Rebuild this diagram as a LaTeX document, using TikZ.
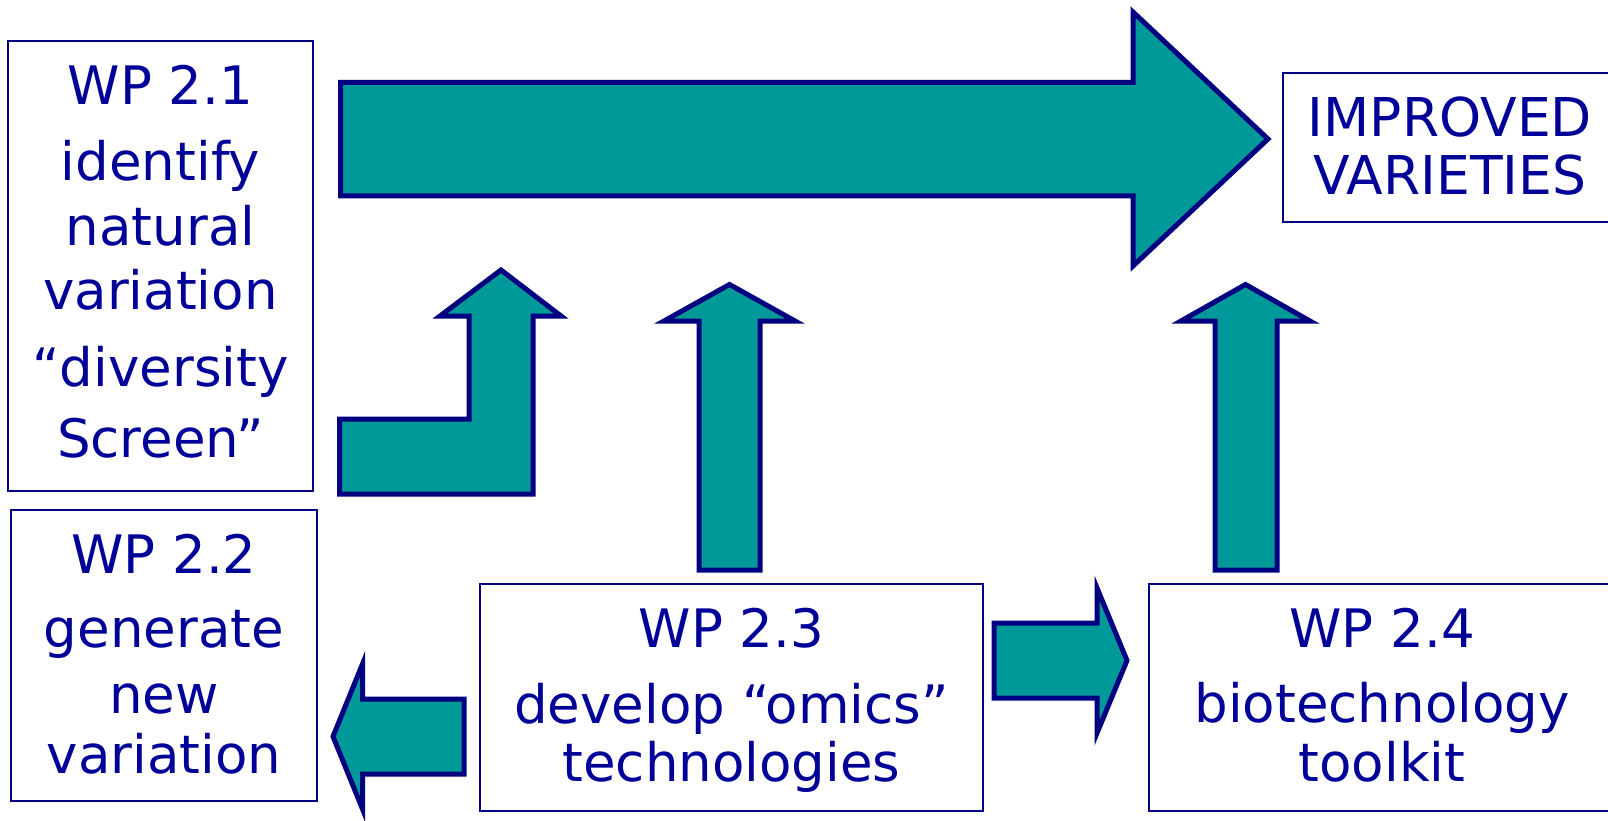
\documentclass[tikz,border=0pt]{standalone}
\usepackage{fontspec}
\setmainfont{DejaVu Sans}
\definecolor{teal1}{RGB}{0,153,153}
\definecolor{navy1}{RGB}{0,0,128}
\definecolor{navytxt}{RGB}{0,0,153}
\tikzset{
  wpbox/.style={draw=navy1, line width=2pt, fill=white, rectangle, inner sep=0pt},
  txt/.style={text=navytxt, inner sep=0pt, anchor=base, font=\fontsize{53}{60}\selectfont},
  blockarrow/.style={draw=navy1, fill=teal1, line width=5pt, line join=miter, miter limit=10},
}
\begin{document}
\begin{tikzpicture}[x=1pt, y=-1pt]
\useasboundingbox (0,0) rectangle (1608,821);
\clip (0,0) rectangle (1608,821);
\fill[white] (0,0) rectangle (1608,821);

% boxes
\node[wpbox, minimum width=305pt, minimum height=449.5pt] (wp21) at (160.5,265.75) {};
\node[wpbox, minimum width=334pt, minimum height=149pt] (imp) at (1450,147.5) {};
\node[wpbox, minimum width=306pt, minimum height=291pt] (wp22) at (164,655.5) {};
\node[wpbox, minimum width=503pt, minimum height=226.5pt] (wp23) at (731.5,697.25) {};
\node[wpbox, minimum width=467pt, minimum height=226.5pt] (wp24) at (1382,697.25) {};

% texts
\node[txt] (t21a) at (160.5,105) {WP 2.1};
\node[txt] (t21b) at (160.5,181) {identify};
\node[txt] (t21c) at (160.5,245.5) {natural};
\node[txt] (t21d) at (160.5,309.5) {variation};
\node[txt] (t21e) at (160.5,386.5) {“diversity};
\node[txt] (t21f) at (160.5,457.5) {Screen”};

\node[txt, font=\fontsize{53.5}{60}\selectfont] (timpa) at (1450,136.5) {IMPROVED};
\node[txt, font=\fontsize{53.5}{60}\selectfont] (timpb) at (1450,195) {VARIETIES};

\node[txt] (t22a) at (164,573.5) {WP 2.2};
\node[txt] (t22b) at (164,647.5) {generate};
\node[txt] (t22c) at (164,713.5) {new};
\node[txt] (t22d) at (164,773) {variation};

\node[txt] (t23a) at (731.5,647) {WP 2.3};
\node[txt] (t23b) at (731.5,723) {develop “omics”};
\node[txt] (t23c) at (731.5,781.5) {technologies};

\node[txt] (t24a) at (1382,647) {WP 2.4};
\node[txt] (t24b) at (1382,722.5) {biotechnology};
\node[txt] (t24c) at (1382,781) {toolkit};

% big arrow to improved varieties
\draw[blockarrow] (340.5,82.5) -- (1133,82.5) -- (1133,12) -- (1268,139) -- (1133,266) -- (1133,196) -- (340.5,196) -- cycle;

% L-shaped arrow
\draw[blockarrow] (339.5,419) -- (469,419) -- (469,316) -- (440,316) -- (501,270) -- (561,316) -- (533,316) -- (533,494) -- (339.5,494) -- cycle;

% middle up arrow
\draw[blockarrow] (699,570) -- (699,321) -- (664,321) -- (729.5,284.5) -- (795,321) -- (760,321) -- (760,570) -- cycle;

% right up arrow
\draw[blockarrow] (1215,570) -- (1215,321) -- (1181,321) -- (1245.5,284.5) -- (1310,321) -- (1277,321) -- (1277,570) -- cycle;

% left arrow (to WP 2.2)
\draw[blockarrow] (464,699) -- (362.5,699) -- (362.5,664) -- (333,736.5) -- (362.5,809) -- (362.5,774) -- (464,774) -- cycle;

% right arrow (to WP 2.4)
\draw[blockarrow] (994,623) -- (1097,623) -- (1097,588) -- (1127,660.5) -- (1097,733) -- (1097,698) -- (994,698) -- cycle;
\end{tikzpicture}
\end{document}
